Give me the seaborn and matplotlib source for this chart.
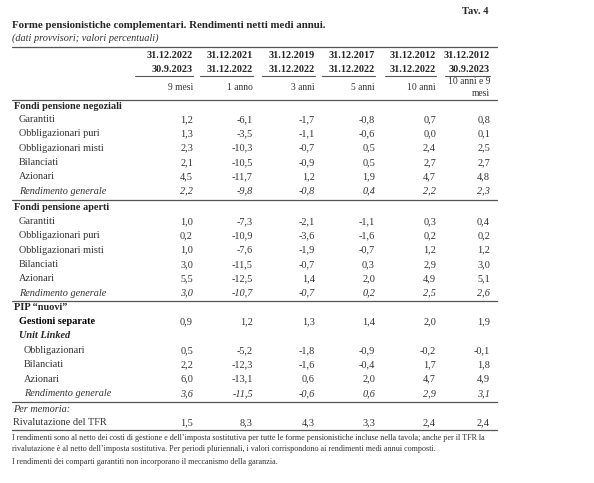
import matplotlib
matplotlib.use("Agg")
import matplotlib.pyplot as plt
import seaborn as sns
import pandas as pd

sns.set_theme(style="white")
plt.rcParams['font.family'] = ['Liberation Serif', 'DejaVu Serif']

periods_from = ["31.12.2022", "31.12.2021", "31.12.2019", "31.12.2017", "31.12.2012", "31.12.2012"]
periods_to = ["30.9.2023", "31.12.2022", "31.12.2022", "31.12.2022", "31.12.2022", "30.9.2023"]
durations = ["9 mesi", "1 anno", "3 anni", "5 anni", "10 anni", "10 anni e 9\nmesi"]

neg_labels = ["Garantiti", "Obbligazionari puri", "Obbligazionari misti", "Bilanciati", "Azionari", "Rendimento generale"]
neg_values = [[1.2, -6.1, -1.7, -0.8, 0.7, 0.8],
              [1.3, -3.5, -1.1, -0.6, 0.0, 0.1],
              [2.3, -10.3, -0.7, 0.5, 2.4, 2.5],
              [2.1, -10.5, -0.9, 0.5, 2.7, 2.7],
              [4.5, -11.7, 1.2, 1.9, 4.7, 4.8],
              [2.2, -9.8, -0.8, 0.4, 2.2, 2.3]]
ape_labels = neg_labels
ape_values = [[1.0, -7.3, -2.1, -1.1, 0.3, 0.4],
              [0.2, -10.9, -3.6, -1.6, 0.2, 0.2],
              [1.0, -7.6, -1.9, -0.7, 1.2, 1.2],
              [3.0, -11.5, -0.7, 0.3, 2.9, 3.0],
              [5.5, -12.5, 1.4, 2.0, 4.9, 5.1],
              [3.0, -10.7, -0.7, 0.2, 2.5, 2.6]]
gest_values = [0.9, 1.2, 1.3, 1.4, 2.0, 1.9]
ul_labels = ["Obbligazionari", "Bilanciati", "Azionari", "Rendimento generale"]
ul_values = [[0.5, -5.2, -1.8, -0.9, -0.2, -0.1],
             [2.2, -12.3, -1.6, -0.4, 1.7, 1.8],
             [6.0, -13.1, 0.6, 2.0, 4.7, 4.9],
             [3.6, -11.5, -0.6, 0.6, 2.9, 3.1]]
tfr_values = [1.5, 8.3, 4.3, 3.3, 2.4, 2.4]

W, H = 594, 483
fig = plt.figure(figsize=(W / 100, H / 100), dpi=100)
ax = fig.add_axes([0, 0, 1, 1])
ax.set_xlim(0, W)
ax.set_ylim(H, 0)
ax.axis("off")

col_right = [193, 253, 315, 375, 436, 490]
col_left = [135, 200, 262, 322, 385, 445]
FS = 7.4
GRAY = "#333333"

def fmt(v):
    return f"{v:.1f}".replace(".", ",")

def hline(y, x0=12, x1=497, lw=0.9):
    ax.plot([x0, x1], [y, y], color="#555555", lw=lw)

def row(y, label, vals=None, indent=19, style="normal", weight="normal", color=GRAY):
    ax.text(indent, y, label, fontsize=FS, va="center", ha="left", style=style, weight=weight, color="black" if weight == "bold" else color)
    if vals is not None:
        for xr, v in zip(col_right, vals):
            ax.text(xr, y, fmt(v), fontsize=FS, va="center", ha="right", style=style, color=color)

ax.text(488, 12, "Tav. 4", fontsize=7.6, weight="bold", ha="right", va="center")
ax.text(12, 26, "Forme pensionistiche complementari. Rendimenti netti medi annui.", fontsize=7.8, weight="bold", va="center")
ax.text(12, 38, "(dati provvisori; valori percentuali)", fontsize=7.4, style="italic", va="center", color=GRAY)
hline(47)
for i in range(6):
    ax.text(col_right[i], 56, periods_from[i], fontsize=FS, weight="bold", ha="right", va="center")
    ax.text(col_right[i], 69, periods_to[i], fontsize=FS, weight="bold", ha="right", va="center")
    ax.plot([col_left[i], col_right[i]], [75.5, 75.5], color="#555555", lw=0.8)
    lines = durations[i].split("\n")
    if len(lines) == 1:
        ax.text(col_right[i], 87, lines[0], fontsize=6.9, ha="right", va="center", color=GRAY)
    else:
        ax.text(col_right[i], 81, lines[0], fontsize=6.9, ha="right", va="center", color=GRAY)
        ax.text(col_right[i], 93, lines[1], fontsize=6.9, ha="right", va="center", color=GRAY)
hline(99.5)

ax.text(14, 106.5, "Fondi pensione negoziali", fontsize=FS, weight="bold", va="center")
y = 119.5
for lab, vals in zip(neg_labels, neg_values):
    row(y, lab, vals, style="italic" if lab.startswith("Rend") else "normal")
    y += 14.3
hline(199.5)
ax.text(14, 207, "Fondi pensione aperti", fontsize=FS, weight="bold", va="center")
y = 221.5
for lab, vals in zip(ape_labels, ape_values):
    row(y, lab, vals, style="italic" if lab.startswith("Rend") else "normal")
    y += 14.3
hline(300.5)
ax.text(14, 308, "PIP \u201cnuovi\u201d", fontsize=FS, weight="bold", va="center")
row(322, "Gestioni separate", None, weight="bold")
for xr, v in zip(col_right, gest_values):
    ax.text(xr, 322, fmt(v), fontsize=FS, va="center", ha="right", color=GRAY)
ax.text(19, 336, "Unit Linked", fontsize=FS, weight="bold", style="italic", va="center")
y = 350.5
for lab, vals in zip(ul_labels, ul_values):
    row(y, lab, vals, indent=24, style="italic" if lab.startswith("Rend") else "normal")
    y += 14.3
hline(401.5)
ax.text(13, 409, "Per memoria:", fontsize=FS, style="italic", va="center", color=GRAY)
row(422.5, "Rivalutazione del TFR", tfr_values, indent=13)
hline(429.5)

fn = 5.9
ax.text(12, 437.5, "I rendimenti sono al netto dei costi di gestione e dell\u2019imposta sostitutiva per tutte le forme pensionistiche incluse nella tavola; anche per il TFR la",
        fontsize=fn, va="center", color=GRAY)
ax.text(12, 449, "rivalutazione \u00e8 al netto dell\u2019imposta sostitutiva. Per periodi pluriennali, i valori corrispondono ai rendimenti medi annui composti.",
        fontsize=fn, va="center", color=GRAY)
ax.text(12, 462, "I rendimenti dei comparti garantiti non incorporano il meccanismo della garanzia.", fontsize=fn, va="center", color=GRAY)

fig.savefig("out.png", dpi=100, facecolor="white")
